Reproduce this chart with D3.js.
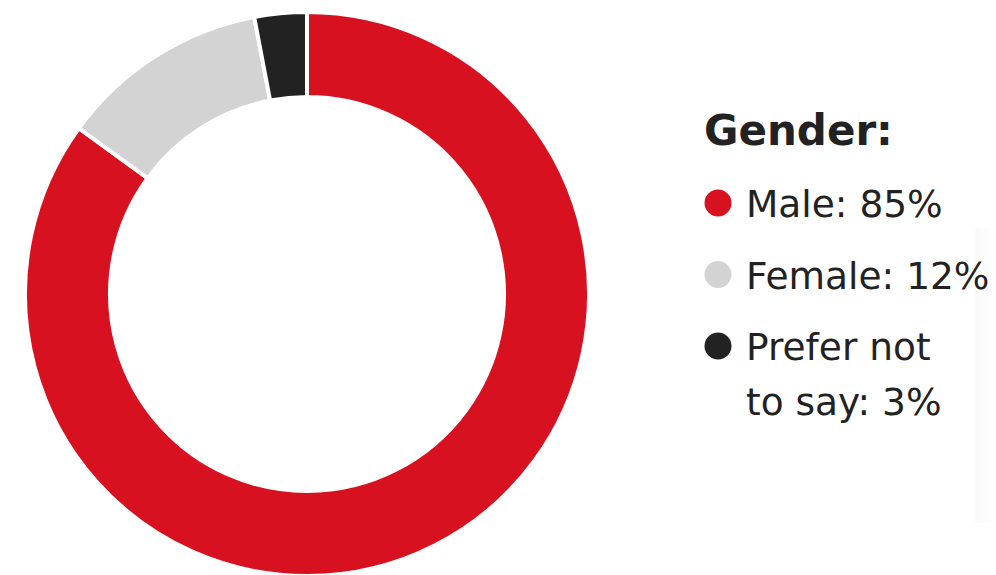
<!DOCTYPE html>
<html>
<head>
<meta charset="utf-8">
<script src="https://cdn.jsdelivr.net/npm/d3@7"></script>
<style>
  html, body { margin: 0; padding: 0; background: #fff; }
  svg { display: block; }
</style>
</head>
<body>
<svg id="chart" width="996" height="575"></svg>
<script>
// Survey respondents by gender
const categories = ["Male", "Female", "Prefer not to say"];
const values = [85, 12, 3];
const legendLines = [["Male: 85%"], ["Female: 12%"], ["Prefer not", "to say: 3%"]];
const colors = ["#d7111f", "#d3d3d3", "#222222"];
const title = "Gender:";

const svg = d3.select("#chart");

// faint panel edge at the right
const grad = svg.append("defs").append("linearGradient")
  .attr("id", "edge").attr("x1", 0).attr("x2", 1).attr("y1", 0).attr("y2", 0);
grad.append("stop").attr("offset", "0%").attr("stop-color", "#fafafa");
grad.append("stop").attr("offset", "100%").attr("stop-color", "#ffffff");
svg.append("rect").attr("x", 975).attr("y", 228).attr("width", 21).attr("height", 295)
  .attr("fill", "url(#edge)");

const cx = 307, cy = 294, rOuter = 282, rInner = 197;

const pie = d3.pie().sort(null).startAngle(0).endAngle(2 * Math.PI);
const arc = d3.arc().innerRadius(rInner).outerRadius(rOuter);

const g = svg.append("g").attr("transform", `translate(${cx},${cy})`);
g.selectAll("path")
  .data(pie(values))
  .join("path")
  .attr("d", arc)
  .attr("fill", (d, i) => colors[i])
  .attr("stroke", "#fff")
  .attr("stroke-width", 4)
  .attr("stroke-linejoin", "miter");

// Legend
const font = "'DejaVu Sans', sans-serif";
const lg = svg.append("g");
lg.append("text")
  .attr("x", 704).attr("y", 145)
  .attr("font-family", font).attr("font-weight", 700).attr("font-size", 42)
  .attr("fill", "#222").text(title);

const itemY = d3.scalePoint().domain(categories).range([217, 360]);
categories.forEach((c, i) => {
  const y = itemY(c);
  lg.append("circle")
    .attr("cx", 718).attr("cy", y - 14).attr("r", 13.5)
    .attr("fill", colors[i]);
  legendLines[i].forEach((line, j) => {
    lg.append("text")
      .attr("x", 746).attr("y", y + j * 55)
      .attr("font-family", font).attr("font-size", 37.5)
      .attr("fill", "#222").text(line);
  });
});
</script>
</body>
</html>
